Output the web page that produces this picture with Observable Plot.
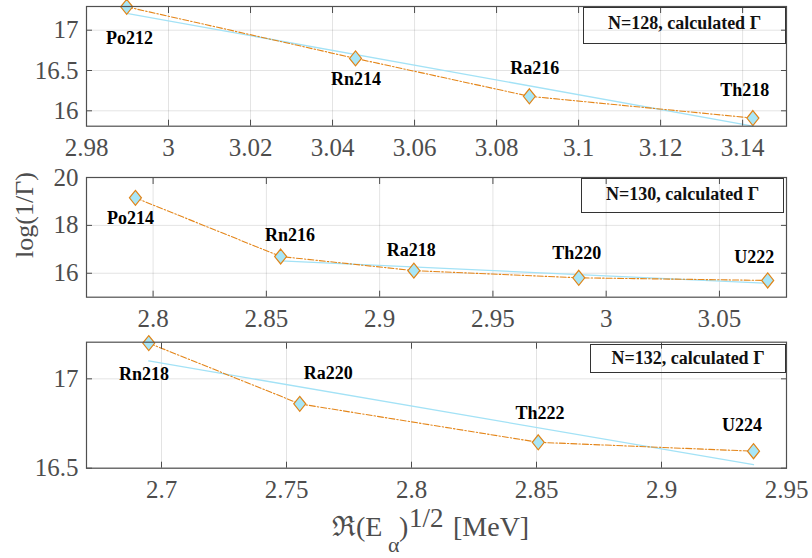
<!DOCTYPE html>
<html><head><meta charset="utf-8">
<script src="https://cdn.jsdelivr.net/npm/d3@7"></script>
<script src="https://cdn.jsdelivr.net/npm/@observablehq/plot@0.6"></script>
<style>
body{margin:0;background:#fff;}
#wrap{position:relative;width:812px;height:558px;font-family:"Liberation Serif",serif;overflow:hidden;}
.panel{position:absolute;left:0;}
.panel svg, .panel svg text{font-family:"Liberation Serif",serif !important;}
.legend{position:absolute;border:1px solid #333;box-sizing:border-box;font:bold 18px "Liberation Serif",serif;text-align:center;color:#111;line-height:22px;padding-top:4px;}
#labels{position:absolute;left:0;top:0;pointer-events:none;}
</style></head>
<body><div id="wrap"></div>
<script>
// ---- Panel N=128 ----
const nuclei128 = ["Po212", "Rn214", "Ra216", "Th218"];
const energy128 = [2.9898, 3.0456, 3.0880, 3.1425];
const logInvGamma128 = [17.29, 16.65, 16.18, 15.91];
const fitX128 = [2.9898, 3.1425];
const fitY128 = [17.21, 15.81];
const labelX128 = [2.9905, 3.0457, 3.0893, 3.1405];
const labelY128 = [16.90, 16.386, 16.525, 16.256];
const xTicks128 = [2.98, 3, 3.02, 3.04, 3.06, 3.08, 3.1, 3.12, 3.14];
const yTicks128 = [16, 16.5, 17];

// ---- Panel N=130 ----
const nuclei130 = ["Po214", "Rn216", "Ra218", "Th220", "U222"];
const energy130 = [2.7922, 2.8563, 2.9151, 2.9879, 3.0713];
const logInvGamma130 = [19.15, 16.70, 16.11, 15.81, 15.70];
const fitX130 = [2.8563, 3.0713];
const fitY130 = [16.52, 15.58];
const labelX130 = [2.790, 2.8604, 2.914, 2.987, 3.0654];
const labelY130 = [18.29, 17.60, 16.97, 16.84, 16.69];
const xTicks130 = [2.8, 2.85, 2.9, 2.95, 3, 3.05];
const yTicks130 = [16, 18, 20];

// ---- Panel N=132 ----
const nuclei132 = ["Rn218", "Ra220", "Th222", "U224"];
const energy132 = [2.6949, 2.7553, 2.8507, 2.9368];
const logInvGamma132 = [17.20, 16.86, 16.645, 16.595];
const fitX132 = [2.6949, 2.9368];
const fitY132 = [17.10, 16.52];
const labelX132 = [2.693, 2.7667, 2.8514, 2.9322];
const labelY132 = [17.023, 17.034, 16.81, 16.739];
const xTicks132 = [2.7, 2.75, 2.8, 2.85, 2.9, 2.95];
const yTicks132 = [16.5, 17];

const legendTexts = ["N=128, calculated Γ", "N=130, calculated Γ", "N=132, calculated Γ"];
const yTitle = "log(1/Γ)";

const AX = "#4d4d4d";
const FF = "Liberation Serif, serif";
const fmt = d => String(+d.toFixed(3));
const diamond = {
  draw(ctx, size) {
    const h = Math.sqrt(size / 1.6), w = 0.8 * h;
    ctx.moveTo(0, -h); ctx.lineTo(w, 0); ctx.lineTo(0, h); ctx.lineTo(-w, 0); ctx.closePath();
  }
};

function panel(cfg) {
  const pts = cfg.names.map((n, i) => ({n, x: cfg.ex[i], y: cfg.ey[i], lx: cfg.lx[i], ly: cfg.ly[i]}));
  const fit = cfg.fx.map((x, i) => ({x, y: cfg.fy[i]}));
  return Plot.plot({
    width: 812, height: cfg.height,
    marginLeft: 86, marginRight: 26, marginTop: cfg.mt, marginBottom: cfg.mb,
    style: {fontFamily: FF, background: "transparent", overflow: "visible"},
    x: {domain: cfg.xd},
    y: {domain: cfg.yd},
    marks: [
      Plot.gridX(cfg.xt, {stroke: "#000", strokeOpacity: 0.11}),
      Plot.gridY(cfg.yt, {stroke: "#000", strokeOpacity: 0.11}),
      Plot.line(fit, {x: "x", y: "y", stroke: "#a3e2f6", strokeWidth: 1.3}),
      Plot.line(pts, {x: "x", y: "y", stroke: "#e4861a", strokeWidth: 1.1, strokeDasharray: "6,2,1.5,2"}),
      Plot.dot(pts, {x: "x", y: "y", symbol: diamond, r: 5.35, fill: "#a8e6f7", stroke: "#e08418", strokeWidth: 1.2}),
      Plot.text(pts, {x: "lx", y: "ly", text: "n", fontWeight: "bold", fontSize: 18, fontFamily: FF, fill: "#000", lineAnchor: "middle"}),
      Plot.axisX({anchor: "bottom", ticks: cfg.xt, tickSize: 0, tickPadding: 12, fontSize: 25, fontFamily: FF, tickFormat: fmt, label: null, color: AX}),
      Plot.axisX({anchor: "bottom", ticks: cfg.xt, tickSize: -6, fill: "none", label: null, stroke: AX}),
      Plot.axisX({anchor: "top", ticks: cfg.xt, tickSize: -6, fill: "none", label: null, stroke: AX}),
      Plot.axisY({anchor: "left", ticks: cfg.yt, tickSize: 0, tickPadding: 8, fontSize: 25, fontFamily: FF, tickFormat: fmt, label: null, color: AX}),
      Plot.axisY({anchor: "left", ticks: cfg.yt, tickSize: -6, fill: "none", label: null, stroke: AX}),
      Plot.axisY({anchor: "right", ticks: cfg.yt, tickSize: -6, fill: "none", label: null, stroke: AX}),
      Plot.frame({stroke: "#505050", strokeWidth: 1.2})
    ]
  });
}

const wrap = document.getElementById("wrap");
const cfgs = [
  {top: 0, height: 160, mt: 6, mb: 34.3, names: nuclei128, ex: energy128, ey: logInvGamma128, fx: fitX128, fy: fitY128, lx: labelX128, ly: labelY128, xt: xTicks128, yt: yTicks128, xd: [2.98, 3.1507], yd: [15.809, 17.294]},
  {top: 160, height: 170, mt: 17, mb: 33.3, names: nuclei130, ex: energy130, ey: logInvGamma130, fx: fitX130, fy: fitY130, lx: labelX130, ly: labelY130, xt: xTicks130, yt: yTicks130, xd: [2.7706, 3.0796], yd: [15, 20]},
  {top: 330, height: 228, mt: 11.7, mb: 90.3, names: nuclei132, ex: energy132, ey: logInvGamma132, fx: fitX132, fy: fitY132, lx: labelX132, ly: labelY132, xt: xTicks132, yt: yTicks132, xd: [2.67, 2.95], yd: [16.5, 17.205]}
];
cfgs.forEach(c => {
  const d = document.createElement("div");
  d.className = "panel";
  d.style.top = c.top + "px";
  d.appendChild(panel(c));
  wrap.appendChild(d);
});

const boxes = [
  {left: 583, top: 7, width: 203, height: 37},
  {left: 581, top: 178, width: 203, height: 35},
  {left: 590, top: 344, width: 196, height: 29}
];
boxes.forEach((b, i) => {
  const d = document.createElement("div");
  d.className = "legend";
  Object.assign(d.style, {left: b.left + "px", top: b.top + "px", width: b.width + "px", height: b.height + "px"});
  if (i === 2) d.style.paddingTop = "2px";
  d.textContent = legendTexts[i];
  wrap.appendChild(d);
});

const ns = "http://www.w3.org/2000/svg";
const svg = document.createElementNS(ns, "svg");
svg.setAttribute("id", "labels");
svg.setAttribute("width", 812); svg.setAttribute("height", 558);
svg.innerHTML = `
<text transform="translate(33,215) rotate(-90)" text-anchor="middle" font-family="Liberation Serif, serif" font-size="26" fill="${AX}">${yTitle}</text>
<g font-family="Liberation Serif, serif" fill="${AX}">
<text x="332" y="536" font-size="28">ℜ(E</text>
<text x="388" y="552" font-size="22">α</text>
<text x="399" y="536" font-size="28">)</text>
<text x="409" y="527" font-size="27">1/2</text>
<text x="453" y="536" font-size="28">[MeV]</text>
</g>`;
wrap.appendChild(svg);
</script>
</body></html>
